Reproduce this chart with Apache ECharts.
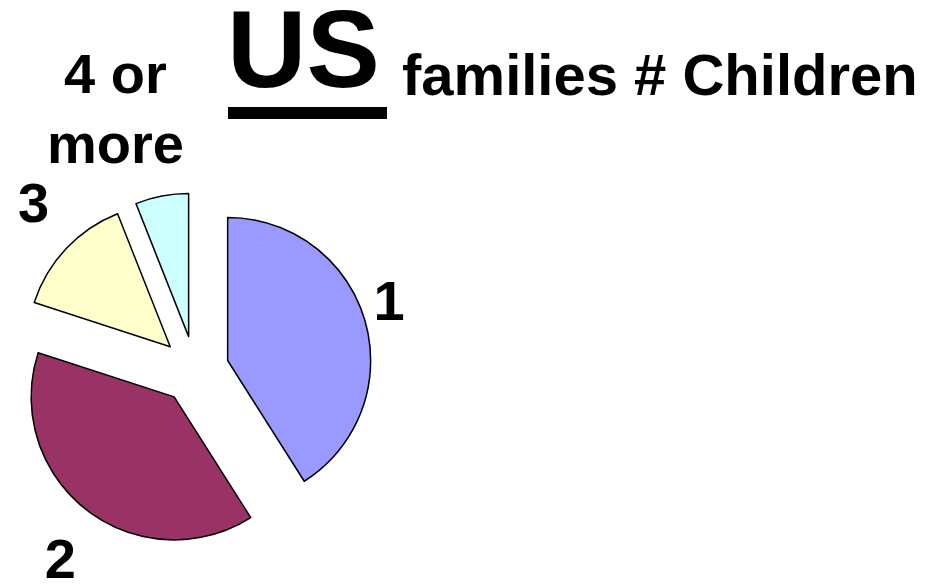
<!DOCTYPE html>
<html>
<head>
<meta charset="utf-8">
<script src="https://cdn.jsdelivr.net/npm/echarts@6/dist/echarts.min.js"></script>
<style>
html, body { margin: 0; padding: 0; background: #fff; }
#chart { width: 941px; height: 584px; }
</style>
</head>
<body>
<div id="chart"></div>
<script>
// number of children per family, share of US families (%)
const categories = ['1', '2', '3', '4 or\nmore'];
const shares = [41, 39, 14, 6];
const sliceColors = ['#9999FF', '#993366', '#FFFFCC', '#CCFFFF'];

const font = '"Liberation Sans", Arial, sans-serif';

const chart = echarts.init(document.getElementById('chart'));

// label line lengths per slice [length, length2] (lines are hidden, only place the text)
const labelPlace = [[56.5, -45.7], [67, -30.5], [61.6, -28], [85, -38]];

const pieData = shares.map((v, i) => ({
  name: categories[i],
  value: v,
  selected: true,
  itemStyle: { color: sliceColors[i] },
  labelLine: { length: labelPlace[i][0], length2: labelPlace[i][1] }
}));

const option = {
  animation: false,
  graphic: [
    {
      type: 'text',
      x: 227,
      y: 57,
      style: { text: 'US', font: 'bold 110px ' + font, fill: '#000', align: 'left', verticalAlign: 'middle' }
    },
    {
      type: 'rect',
      shape: { x: 228, y: 107, width: 159, height: 12 },
      style: { fill: '#000' }
    },
    {
      type: 'text',
      x: 402,
      y: 79,
      style: { text: 'families # Children', font: 'bold 58px ' + font, fill: '#000', align: 'left', verticalAlign: 'middle' }
    }
  ],
  series: [
    {
      type: 'pie',
      left: 0,
      top: 0,
      width: 941,
      height: 700,
      center: [195, 370],
      radius: 143,
      startAngle: 90,
      clockwise: true,
      selectedMode: 'multiple',
      selectedOffset: 34,
      avoidLabelOverlap: false,
      labelLayout: { hideOverlap: false },
      itemStyle: { borderColor: '#000', borderWidth: 1.5 },
      emphasis: { disabled: true },
      label: {
        show: true,
        position: 'outside',
        distanceToLabelLine: 0,
        bleedMargin: 0,
        color: '#000',
        formatter: p => p.name.split('\n').map(s => '{t|' + s + '}').join('\n'),
        rich: {
          t: { fontFamily: font, fontWeight: 'bold', fontSize: 56, lineHeight: 70, color: '#000', align: 'center' }
        }
      },
      labelLine: { show: false },
      data: pieData
    }
  ]
};

chart.setOption(option);
</script>
</body>
</html>
